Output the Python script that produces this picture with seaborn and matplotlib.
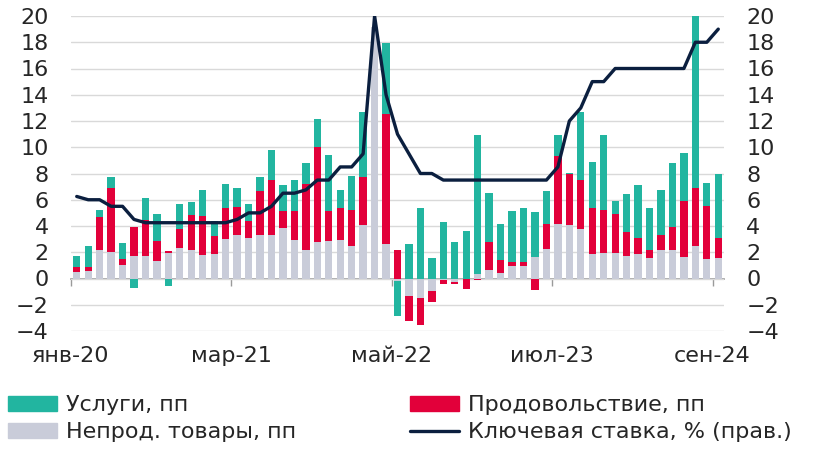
import numpy as np
import pandas as pd
import matplotlib
matplotlib.use("Agg")
import matplotlib.pyplot as plt
from matplotlib.patches import Patch
from matplotlib.lines import Line2D
import seaborn as sns

# месяцы янв-2020 ... сен-2024
months = pd.period_range("2020-01", "2024-09", freq="M")

# вклад в инфляцию, п.п.
nonfood = [0.5, 0.55, 2.2, 2.0, 1.05, 1.75, 1.7, 1.35, 1.95, 2.35, 2.2, 1.8,
           1.85, 3.0, 3.3, 3.05, 3.3, 3.3, 3.85, 2.9, 2.15, 2.8, 2.85, 2.9,
           2.5, 4.05, 19.2, 2.6, -0.2, -1.35, -1.45, -0.95, -0.13, -0.25, 0.0, 0.35,
           0.65, 0.4, 0.95, 0.95, 1.65, 2.25, 4.15, 4.1, 3.8, 1.9, 1.95, 1.95,
           1.75, 1.9, 1.6, 2.2, 2.2, 1.65, 2.45, 1.5, 1.55]
food = [0.4, 0.35, 2.45, 4.9, 0.45, 2.15, 2.75, 1.5, 0.15, 1.45, 2.65, 3.0,
        1.4, 2.35, 2.15, 1.35, 3.4, 4.2, 1.3, 2.25, 5.05, 7.2, 2.3, 2.45,
        2.7, 3.7, 0.0, 9.95, 2.15, -1.85, -2.1, -0.85, -0.3, -0.18, -0.8, -0.12,
        2.1, 1.0, 0.3, 0.3, -0.85, 1.9, 5.15, 3.85, 3.7, 3.5, 3.25, 3.0,
        1.8, 1.2, 0.6, 1.15, 1.75, 4.25, 4.45, 4.0, 1.55]
services = [0.8, 1.55, 0.6, 0.85, 1.2, -0.7, 1.65, 2.1, -0.6, 1.9, 1.0, 1.95,
            1.15, 1.85, 1.45, 1.25, 1.0, 2.3, 1.95, 2.35, 1.6, 2.15, 4.25, 1.4,
            2.6, 4.9, 0.0, 5.4, -2.65, 2.65, 5.35, 1.55, 4.3, 2.8, 3.65, 10.6,
            3.8, 2.75, 3.9, 4.15, 3.4, 2.5, 1.6, 0.1, 5.15, 3.45, 5.7, 0.95,
            2.9, 4.0, 3.2, 3.4, 4.85, 3.7, 14.0, 1.75, 4.9]
# ключевая ставка, %
key_rate = [6.25, 6.0, 6.0, 5.5, 5.5, 4.5, 4.25, 4.25, 4.25, 4.25, 4.25, 4.25,
            4.25, 4.25, 4.5, 5.0, 5.0, 5.5, 6.5, 6.5, 6.75, 7.5, 7.5, 8.5,
            8.5, 9.5, 20.0, 14.0, 11.0, 9.5, 8.0, 8.0, 7.5, 7.5, 7.5, 7.5,
            7.5, 7.5, 7.5, 7.5, 7.5, 7.5, 8.5, 12.0, 13.0, 15.0, 15.0, 16.0,
            16.0, 16.0, 16.0, 16.0, 16.0, 16.0, 18.0, 18.0, 19.0]

tick_months = ["2020-01", "2021-03", "2022-05", "2023-07", "2024-09"]
tick_labels = ["янв-20", "мар-21", "май-22", "июл-23", "сен-24"]

series = [("Непрод. товары, пп", nonfood, "#c9ccd9"),
          ("Продовольствие, пп", food, "#e2003a"),
          ("Услуги, пп", services, "#22b5a0")]
rate_color = "#0b1f3f"
grid_color = "#d9d9d9"
axis_color = "#9a9a9a"

sns.set_theme(style="white")
plt.rcParams["font.family"] = ["DejaVu Sans"]
fs = 16

fig = plt.figure(figsize=(8.17, 4.67), dpi=100)
ax = fig.add_axes([71 / 817, 1 - 331 / 467, (724 - 71) / 817, (331 - 16) / 467])

x = np.arange(len(months))
pos_base = np.zeros(len(x))
neg_base = np.zeros(len(x))
for name, vals, col in series:
    v = np.array(vals)
    bottom = np.where(v >= 0, pos_base, neg_base)
    ax.bar(x, v, bottom=bottom, width=0.64, color=col, linewidth=0, zorder=2)
    pos_base += np.clip(v, 0, None)
    neg_base += np.clip(v, None, 0)

ax.set_ylim(-4, 20)
ax.set_xlim(-0.5, len(x) - 0.5)
ax.set_yticks(np.arange(-4, 21, 2))
ax.yaxis.grid(True, color=grid_color, linewidth=1)
ax.set_axisbelow(True)
for s in ax.spines.values():
    s.set_visible(False)

tick_pos = [months.get_loc(pd.Period(m, "M")) - 0.5 for m in tick_months]
ax.set_xticks(tick_pos)
ax.set_xticklabels(tick_labels, fontsize=fs)
ax.tick_params(axis="x", length=0, pad=11)
ax.tick_params(axis="y", length=0, pad=16, labelsize=fs)

# ось X на нуле
sec = ax.secondary_xaxis(1 / 6)
sec.set_xticks(tick_pos)
sec.set_xticklabels([])
sec.tick_params(length=5, width=1, color=axis_color, direction="out")
sec.spines["bottom"].set_color(axis_color)
sec.spines["bottom"].set_linewidth(1.2)

ax2 = ax.twinx()
sns.lineplot(x=x, y=key_rate, ax=ax2, color=rate_color, linewidth=2.4)
ax2.set_ylim(-4, 20)
ax2.set_yticks(np.arange(-4, 21, 2))
ax2.tick_params(axis="y", length=0, pad=16, labelsize=fs)
ax2.set_ylabel("")
for s in ax2.spines.values():
    s.set_visible(False)

h_serv = Patch(color=series[2][2], label=series[2][0])
h_nonf = Patch(color=series[0][2], label=series[0][0])
h_food = Patch(color=series[1][2], label=series[1][0])
h_rate = Line2D([], [], color=rate_color, linewidth=2.4, label="Ключевая ставка, % (прав.)")

leg_kw = dict(loc="upper left", frameon=False, fontsize=fs, borderpad=0, borderaxespad=0,
              handlelength=2.2, handleheight=0.65, handletextpad=0.4, labelspacing=0.32)
fig.legend(handles=[h_serv, h_nonf], bbox_to_anchor=(8 / 817, 1 - 395 / 467), **leg_kw)
fig.legend(handles=[h_food, h_rate], bbox_to_anchor=(410 / 817, 1 - 395 / 467), **leg_kw)

fig.savefig("out.png", dpi=100)
